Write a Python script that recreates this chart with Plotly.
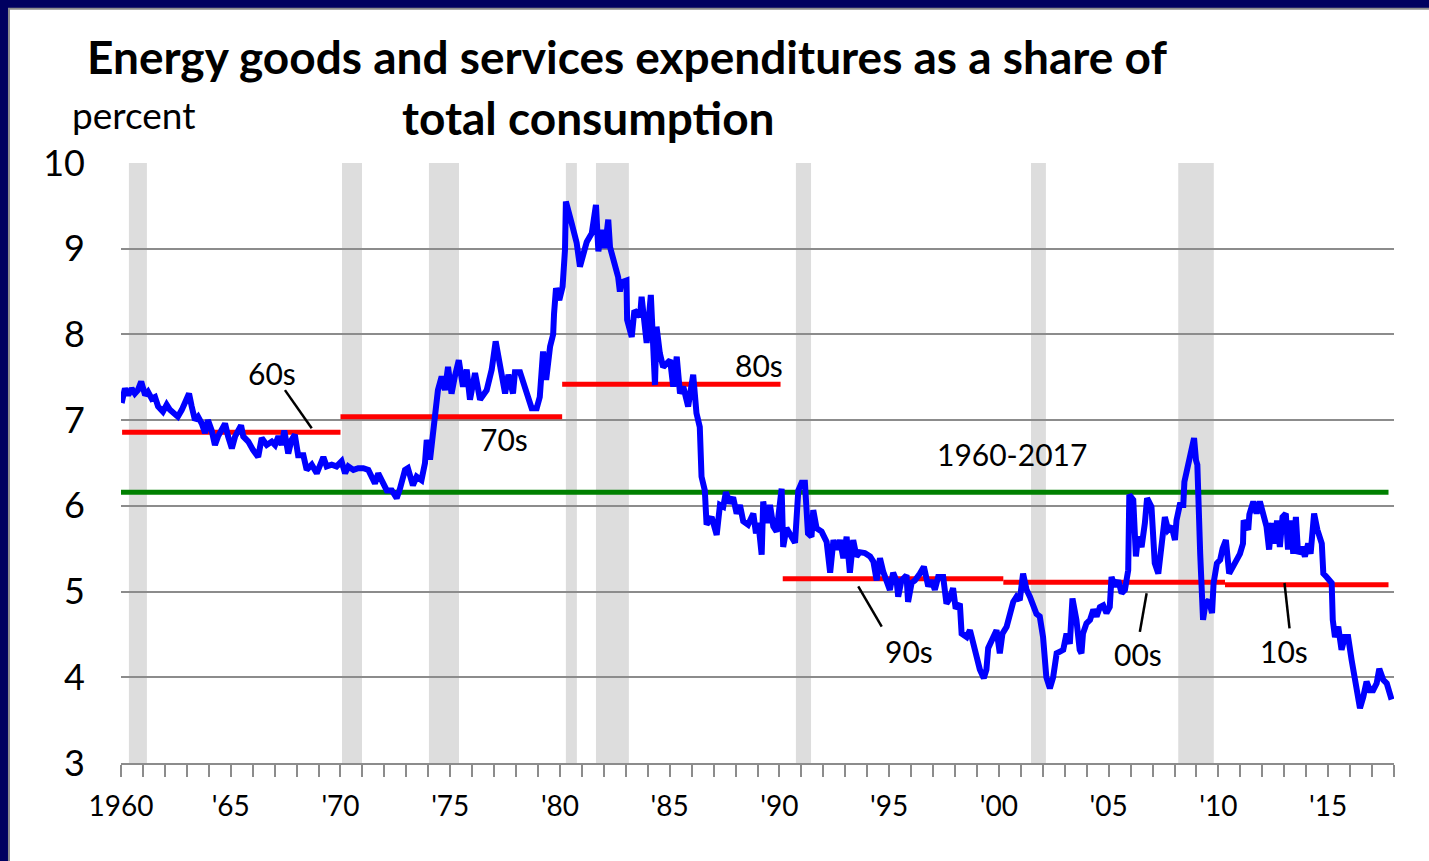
import plotly.graph_objects as go

# ---------------- data ----------------
years = [
    1960.03, 1960.18, 1960.33, 1960.48, 1960.63, 1960.77, 1960.92, 1961.10, 1961.23, 1961.40,
    1961.55, 1961.69, 1961.91, 1962.08, 1962.23, 1962.37, 1962.59, 1962.77, 1962.92, 1963.10,
    1963.22, 1963.37, 1963.51, 1963.68, 1963.83, 1963.96, 1964.13, 1964.28, 1964.42, 1964.58,
    1964.74, 1964.88, 1965.05, 1965.20, 1965.47, 1965.57, 1965.80, 1966.02, 1966.25, 1966.41,
    1966.64, 1966.87, 1967.02, 1967.17, 1967.32, 1967.44, 1967.62, 1967.77, 1967.92, 1968.07,
    1968.31, 1968.46, 1968.69, 1968.92, 1969.07, 1969.22, 1969.37, 1969.60, 1969.82, 1970.05,
    1970.21, 1970.36, 1970.59, 1970.81, 1971.04, 1971.27, 1971.42, 1971.57, 1971.72, 1971.94,
    1972.11, 1972.34, 1972.56, 1972.71, 1972.86, 1972.94, 1973.07, 1973.30, 1973.47, 1973.69,
    1973.85, 1973.93, 1974.08, 1974.22, 1974.31, 1974.44, 1974.61, 1974.76, 1974.90, 1975.06,
    1975.21, 1975.39, 1975.58, 1975.75, 1975.90, 1976.13, 1976.36, 1976.66, 1976.89, 1977.07,
    1977.50, 1977.65, 1977.86, 1977.95, 1978.18, 1978.48, 1978.71, 1978.94, 1979.08, 1979.23,
    1979.37, 1979.55, 1979.69, 1979.73, 1979.82, 1979.97, 1980.12, 1980.23, 1980.27, 1980.53,
    1980.76, 1980.91, 1981.06, 1981.22, 1981.45, 1981.64, 1981.75, 1981.90, 1982.05, 1982.20,
    1982.28, 1982.50, 1982.65, 1982.73, 1982.81, 1983.03, 1983.06, 1983.27, 1983.39, 1983.65,
    1983.72, 1983.95, 1984.14, 1984.33, 1984.40, 1984.55, 1984.70, 1985.02, 1985.16, 1985.32,
    1985.47, 1985.62, 1985.84, 1986.07, 1986.22, 1986.37, 1986.45, 1986.60, 1986.68, 1986.91,
    1987.14, 1987.29, 1987.44, 1987.56, 1987.74, 1987.89, 1988.05, 1988.20, 1988.35, 1988.57,
    1988.81, 1988.93, 1989.04, 1989.19, 1989.26, 1989.42, 1989.57, 1989.72, 1989.87, 1990.10,
    1990.17, 1990.32, 1990.48, 1990.71, 1990.86, 1991.01, 1991.16, 1991.30, 1991.46, 1991.54,
    1991.69, 1991.92, 1992.15, 1992.31, 1992.46, 1992.61, 1992.76, 1992.91, 1993.06, 1993.21,
    1993.36, 1993.51, 1993.66, 1993.89, 1994.13, 1994.28, 1994.43, 1994.58, 1994.73, 1994.88,
    1995.03, 1995.18, 1995.34, 1995.41, 1995.56, 1995.79, 1995.86, 1996.02, 1996.17, 1996.40,
    1996.58, 1996.78, 1996.93, 1997.08, 1997.23, 1997.46, 1997.61, 1997.76, 1997.91, 1998.03,
    1998.22, 1998.30, 1998.53, 1998.68, 1998.83, 1998.98, 1999.13, 1999.31, 1999.43, 1999.51,
    1999.73, 1999.89, 2000.04, 2000.16, 2000.35, 2000.50, 2000.65, 2000.80, 2000.95, 2001.10,
    2001.26, 2001.41, 2001.56, 2001.71, 2001.86, 2002.01, 2002.16, 2002.32, 2002.47, 2002.63,
    2002.78, 2002.93, 2003.08, 2003.23, 2003.35, 2003.53, 2003.68, 2003.76, 2003.83, 2003.99,
    2004.15, 2004.30, 2004.45, 2004.60, 2004.75, 2004.90, 2005.05, 2005.13, 2005.29, 2005.44,
    2005.59, 2005.74, 2005.89, 2005.94, 2006.12, 2006.24, 2006.34, 2006.50, 2006.65, 2006.75,
    2006.95, 2007.10, 2007.26, 2007.41, 2007.56, 2007.71, 2007.87, 2008.02, 2008.09, 2008.24,
    2008.40, 2008.45, 2008.63, 2008.79, 2008.89, 2008.98, 2009.04, 2009.17, 2009.30, 2009.41,
    2009.56, 2009.71, 2009.78, 2009.93, 2010.08, 2010.19, 2010.34, 2010.49, 2010.67, 2010.83,
    2010.98, 2011.12, 2011.15, 2011.36, 2011.41, 2011.59, 2011.74, 2011.89, 2012.01, 2012.19,
    2012.31, 2012.42, 2012.57, 2012.67, 2012.80, 2012.92, 2013.07, 2013.17, 2013.29, 2013.41,
    2013.53, 2013.63, 2013.79, 2013.94, 2014.09, 2014.20, 2014.36, 2014.51, 2014.71, 2014.78,
    2014.93, 2015.16, 2015.21, 2015.31, 2015.46, 2015.61, 2015.76, 2015.91, 2016.07, 2016.22,
    2016.37, 2016.45, 2016.60, 2016.75, 2016.90, 2017.05, 2017.21, 2017.33, 2017.51, 2017.67,
    2017.89,
]

energy_share = [
    7.20, 7.37, 7.29, 7.37, 7.31, 7.35, 7.45, 7.29, 7.33, 7.25,
    7.27, 7.16, 7.10, 7.18, 7.12, 7.08, 7.04, 7.12, 7.22, 7.31,
    7.16, 7.00, 7.04, 6.96, 6.85, 7.00, 6.88, 6.71, 6.81, 6.87,
    6.96, 6.81, 6.67, 6.81, 6.94, 6.81, 6.75, 6.65, 6.57, 6.79,
    6.71, 6.75, 6.71, 6.81, 6.71, 6.88, 6.61, 6.77, 6.83, 6.59,
    6.59, 6.42, 6.48, 6.38, 6.46, 6.57, 6.46, 6.48, 6.46, 6.52,
    6.38, 6.46, 6.42, 6.44, 6.44, 6.42, 6.34, 6.26, 6.38, 6.26,
    6.18, 6.18, 6.09, 6.20, 6.34, 6.42, 6.44, 6.24, 6.34, 6.30,
    6.50, 6.77, 6.54, 6.85, 7.16, 7.35, 7.51, 7.35, 7.62, 7.31,
    7.51, 7.70, 7.39, 7.59, 7.24, 7.55, 7.24, 7.35, 7.59, 7.92,
    7.31, 7.53, 7.31, 7.56, 7.56, 7.35, 7.14, 7.14, 7.27, 7.80,
    7.47, 7.86, 8.00, 8.24, 8.54, 8.40, 8.56, 8.99, 9.55, 9.30,
    9.07, 8.79, 8.95, 9.08, 9.18, 9.51, 8.97, 9.22, 9.01, 9.34,
    9.02, 8.79, 8.67, 8.50, 8.61, 8.63, 8.17, 7.97, 8.28, 8.21,
    8.44, 7.90, 8.46, 7.41, 8.09, 7.78, 7.62, 7.70, 7.39, 7.74,
    7.31, 7.39, 7.16, 7.53, 7.08, 6.92, 6.34, 6.18, 5.78, 5.87,
    5.66, 6.01, 5.99, 6.16, 6.03, 6.10, 5.91, 6.01, 5.82, 5.78,
    5.91, 5.68, 5.80, 5.43, 6.05, 5.80, 6.01, 5.76, 5.70, 6.20,
    5.52, 5.74, 5.68, 5.57, 6.18, 6.27, 6.27, 5.68, 5.64, 5.95,
    5.74, 5.70, 5.58, 5.22, 5.60, 5.49, 5.60, 5.39, 5.64, 5.22,
    5.60, 5.41, 5.46, 5.45, 5.41, 5.35, 5.13, 5.39, 5.23, 5.13,
    5.02, 5.22, 5.12, 4.94, 5.13, 5.19, 4.88, 5.10, 5.13, 5.21,
    5.29, 5.06, 5.13, 5.02, 5.17, 5.17, 4.86, 4.92, 5.04, 4.80,
    4.86, 4.51, 4.47, 4.55, 4.39, 4.24, 4.09, 3.99, 4.09, 4.34,
    4.47, 4.55, 4.28, 4.51, 4.59, 4.71, 4.88, 4.94, 4.90, 5.21,
    5.02, 4.94, 4.82, 4.74, 4.71, 4.47, 4.00, 3.87, 4.00, 4.28,
    4.30, 4.32, 4.51, 4.39, 4.92, 4.67, 4.32, 4.28, 4.51, 4.63,
    4.67, 4.79, 4.71, 4.82, 4.84, 4.75, 4.82, 5.17, 5.06, 5.13,
    4.98, 5.02, 5.25, 6.13, 6.07, 5.41, 5.64, 5.52, 5.80, 6.09,
    5.99, 5.33, 5.21, 5.49, 5.87, 5.72, 5.76, 5.60, 5.83, 6.01,
    6.01, 6.28, 6.48, 6.69, 6.79, 6.53, 6.48, 5.44, 4.67, 4.86,
    4.90, 4.75, 5.10, 5.33, 5.37, 5.50, 5.60, 5.21, 5.29, 5.37,
    5.44, 5.56, 5.83, 5.72, 5.90, 6.05, 5.91, 6.05, 5.95, 5.76,
    5.49, 5.80, 5.56, 5.83, 5.52, 5.87, 5.91, 5.49, 5.83, 5.44,
    5.87, 5.44, 5.52, 5.41, 5.56, 5.44, 5.91, 5.72, 5.56, 5.21,
    5.17, 5.10, 4.67, 4.47, 4.59, 4.32, 4.47, 4.47, 4.20, 3.97,
    3.81, 3.64, 3.77, 3.95, 3.85, 3.85, 3.93, 4.10, 3.97, 3.93,
    3.74,
]

decade_labels = ["60s", "70s", "80s", "90s", "00s", "10s"]
decade_start = [1960.05, 1970.0, 1980.1, 1990.15, 2000.2, 2010.3]
decade_end = [1970.0, 1980.1, 1990.05, 2000.2, 2010.3, 2017.75]
decade_avg = [6.86, 7.04, 7.42, 5.15, 5.11, 5.08]

overall_label = "1960-2017"
overall_start = 1960.0
overall_end = 2017.75
overall_avg = 6.16

recession_start = [1960.36, 1970.07, 1974.03, 1980.27, 1981.64, 1990.75, 2001.46, 2008.17]
recession_end = [1961.18, 1970.98, 1975.40, 1980.77, 1983.14, 1991.44, 2002.14, 2009.79]

x_tick_vals = [1960, 1965, 1970, 1975, 1980, 1985, 1990, 1995, 2000, 2005, 2010, 2015]
x_tick_text = ["1960", "'65", "'70", "'75", "'80", "'85", "'90", "'95", "'00", "'05", "'10", "'15"]
y_tick_vals = [3, 4, 5, 6, 7, 8, 9, 10]

title_line1 = "Energy goods and services expenditures as a share of"
title_line2 = "total consumption"
y_unit = "percent"

# ---------------- figure ----------------
FONT = "Lato"
GRID = "#8c8c8c"
NAVY = "#000060"

fig = go.Figure()

fig.add_trace(go.Scatter(
    x=[overall_start, overall_end], y=[overall_avg, overall_avg],
    mode="lines", line=dict(color="#008000", width=5), hoverinfo="skip", showlegend=False))

for s, e, v in zip(decade_start, decade_end, decade_avg):
    fig.add_trace(go.Scatter(
        x=[s, e], y=[v, v], mode="lines",
        line=dict(color="#FF0000", width=5), hoverinfo="skip", showlegend=False))

fig.add_trace(go.Scatter(
    x=years, y=energy_share, mode="lines",
    line=dict(color="#0000FF", width=6), hoverinfo="skip", showlegend=False))

shapes = [
    dict(type="rect", xref="paper", yref="paper", x0=-0.088, x1=1.06, y0=-0.2, y1=1.257,
         fillcolor="white", line=dict(color=GRID, width=2), layer="below"),
]
for s, e in zip(recession_start, recession_end):
    shapes.append(dict(type="rect", xref="x", yref="paper", x0=s, x1=e, y0=0, y1=1,
                       fillcolor="#DDDDDD", line=dict(width=0), layer="below"))

# pointer lines for the decade labels
pointer_lines = [
    (1967.47, 7.35, 1968.69, 6.905),
    (1993.59, 5.06, 1994.66, 4.59),
    (2006.73, 4.98, 2006.42, 4.53),
    (2013.01, 5.10, 2013.24, 4.57),
]
for x0, y0, x1, y1 in pointer_lines:
    shapes.append(dict(type="line", xref="x", yref="y", x0=x0, y0=y0, x1=x1, y1=y1,
                       line=dict(color="black", width=2.5)))

label_pos = {
    "60s": (1966.88, 7.55),
    "70s": (1977.45, 6.78),
    "80s": (1989.07, 7.64),
    "90s": (1995.90, 4.31),
    "00s": (2006.33, 4.27),
    "10s": (2013.01, 4.31),
}
annotations = []
for lab in decade_labels:
    x, y = label_pos[lab]
    annotations.append(dict(x=x, y=y, xref="x", yref="y", text=lab, showarrow=False,
                            font=dict(family=FONT, size=30, color="black"),
                            xanchor="center", yanchor="middle"))
annotations.append(dict(x=2000.59, y=6.61, xref="x", yref="y", text=overall_label, showarrow=False,
                        font=dict(family=FONT, size=30, color="black"),
                        xanchor="center", yanchor="middle"))

annotations.append(dict(x=(626.5 - 121) / 1273, y=(763 - 57) / 600, xref="paper", yref="paper",
                        text="<b>" + title_line1 + "</b>", showarrow=False,
                        font=dict(family=FONT, size=46, color="black"),
                        xanchor="center", yanchor="middle"))
annotations.append(dict(x=(588.5 - 121) / 1273, y=(763 - 117) / 600, xref="paper", yref="paper",
                        text="<b>" + title_line2 + "</b>", showarrow=False,
                        font=dict(family=FONT, size=46, color="black"),
                        xanchor="center", yanchor="middle"))
annotations.append(dict(x=(133.5 - 121) / 1273, y=(763 - 115) / 600, xref="paper", yref="paper",
                        text=y_unit, showarrow=False,
                        font=dict(family=FONT, size=37, color="black"),
                        xanchor="center", yanchor="middle"))

fig.update_layout(
    width=1429, height=861,
    margin=dict(l=121, r=35, t=163, b=98),
    paper_bgcolor=NAVY,
    plot_bgcolor="rgba(0,0,0,0)",
    shapes=shapes,
    annotations=annotations,
    showlegend=False,
    font=dict(family=FONT, color="black"),
    xaxis=dict(
        range=[1960, 2018], tickvals=x_tick_vals, ticktext=x_tick_text,
        ticks="outside", ticklen=12, tickwidth=2, tickcolor=GRID,
        showline=True, linecolor=GRID, linewidth=2,
        showgrid=False, zeroline=False,
        minor=dict(tick0=1960, dtick=1, ticks="outside", ticklen=12, tickwidth=2,
                   tickcolor=GRID, showgrid=False),
        tickfont=dict(family=FONT, size=28, color="black"),
        ticklabelstandoff=5,
        fixedrange=True,
    ),
    yaxis=dict(
        range=[3, 10], tickvals=y_tick_vals,
        showgrid=True, gridcolor=GRID, gridwidth=2,
        zeroline=False, showline=False, ticks="",
        tickfont=dict(family=FONT, size=36, color="black"),
        ticklabelstandoff=35,
        fixedrange=True,
    ),
)

fig.write_html("out.html", config={"displayModeBar": False},
               post_script="document.body.style.margin='0';document.body.style.overflow='hidden';")
